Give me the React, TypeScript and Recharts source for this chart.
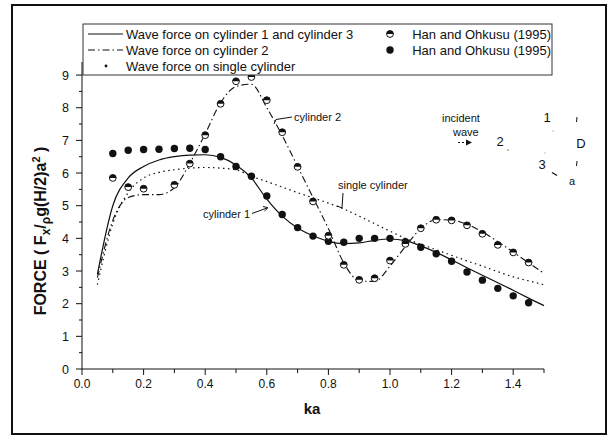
import React from "react";
import { ComposedChart, Line, XAxis, YAxis } from "recharts";

// ka grid shared by all series (step 0.05)
const kaValues = [
  0.05, 0.1, 0.15, 0.2, 0.25, 0.3, 0.35, 0.4, 0.45, 0.5, 0.55, 0.6, 0.65, 0.7, 0.75,
  0.8, 0.85, 0.9, 0.95, 1.0, 1.05, 1.1, 1.15, 1.2, 1.25, 1.3, 1.35, 1.4, 1.45, 1.5,
];

// computed wave force on cylinder 1 and cylinder 3
const forceCyl13 = [
  2.9, 5.0, 5.85, 6.2, 6.4, 6.5, 6.55, 6.56, 6.48, 6.25, 5.85, 5.2, 4.68, 4.32, 4.08,
  3.91, 3.84, 3.86, 3.94, 3.98, 3.93, 3.77, 3.57, 3.34, 3.1, 2.87, 2.64, 2.41, 2.17, 1.94,
];
// computed wave force on cylinder 2
const forceCyl2 = [
  2.8, 4.55, 5.25, 5.34, 5.34, 5.55, 6.3, 7.2, 8.15, 8.65, 8.72, 8.0, 7.15, 6.2, 5.25,
  4.3, 3.25, 2.7, 2.68, 3.15, 3.75, 4.3, 4.57, 4.56, 4.43, 4.2, 3.9, 3.58, 3.25, 2.93,
];
// computed wave force on a single cylinder
const forceSingle = [
  2.58, 4.45, 5.4, 5.85, 6.02, 6.1, 6.15, 6.17, 6.15, 6.1, 5.9, 5.74, 5.57, 5.4, 5.24,
  5.08, 4.9, 4.68, 4.45, 4.22, 4.0, 3.82, 3.65, 3.48, 3.31, 3.15, 2.98, 2.82, 2.7, 2.58,
];
// Han and Ohkusu (1995), cylinder 1 (filled circles)
const hanCyl1 = [
  null, 6.6, 6.7, 6.72, 6.73, 6.75, 6.76, 6.72, 6.5, 6.2, 5.9, 5.3, 4.73, 4.33, 4.07,
  3.91, 3.88, 4.0, 4.0, 4.0, 3.9, 3.73, 3.53, 3.3, 2.97, 2.72, 2.47, 2.24, 2.03, null,
];
// Han and Ohkusu (1995), cylinder 2 (half-filled circles)
const hanCyl2 = [
  null, 5.85, 5.57, 5.52, null, 5.64, 6.29, 7.16, 8.12, 8.81, 8.94, 8.23, 7.25, 6.19, 5.13,
  4.08, 3.19, 2.73, 2.78, 3.32, 3.83, 4.31, 4.57, 4.55, 4.4, 4.14, 3.8, 3.57, 3.26, null,
];

const xTicks = [0, 0.1, 0.2, 0.3, 0.4, 0.5, 0.6, 0.7, 0.8, 0.9, 1.0, 1.1, 1.2, 1.3, 1.4, 1.5];
const xTickLabels = ["0.0", "", "0.2", "", "0.4", "", "0.6", "", "0.8", "", "1.0", "", "1.2", "", "1.4", ""];
const yTicks = [0, 0.5, 1, 1.5, 2, 2.5, 3, 3.5, 4, 4.5, 5, 5.5, 6, 6.5, 7, 7.5, 8, 8.5, 9];

const tableData = kaValues.map((ka, i) => ({
  ka,
  cyl13: forceCyl13[i],
  cyl2: forceCyl2[i],
  single: forceSingle[i],
  exp1: hanCyl1[i],
  exp2: hanCyl2[i],
}));

const FONT = "'Liberation Sans', Arial, Helvetica, sans-serif";
const INK = "#111";

const XTick = (props: any) => {
  const { x, y, index } = props;
  const label = xTickLabels[index] ?? "";
  const major = label !== "";
  return (
    <g>
      <line x1={x} x2={x} y1={y} y2={y + (major ? 6 : 4)} stroke={INK} strokeWidth={1} />
      {major && (
        <text x={x} y={y + 19} textAnchor="middle" fontSize={12} fontFamily={FONT} fill={INK}>
          {label}
        </text>
      )}
    </g>
  );
};

const YTick = (props: any) => {
  const { x, y, payload } = props;
  const v = payload.value as number;
  const major = Number.isInteger(v);
  return (
    <g>
      <line x1={x} x2={x - (major ? 6 : 3)} y1={y} y2={y} stroke={INK} strokeWidth={1} />
      {major && (
        <text x={x - 13} y={y + 4.5} textAnchor="end" fontSize={12.5} fontFamily={FONT} fill={INK}>
          {v}
        </text>
      )}
    </g>
  );
};

const FilledDot = (props: any) => {
  const { cx, cy, index, value } = props;
  if (value == null || cy == null || Number.isNaN(cy)) return <g key={`f-${index}`} />;
  return <circle key={`f-${index}`} cx={cx} cy={cy} r={3.7} fill={INK} />;
};

const halfMarker = (cx: number, cy: number, r: number) => (
  <g>
    <circle cx={cx} cy={cy} r={r} fill="#fff" stroke={INK} strokeWidth={1} />
    <path d={`M ${cx - r} ${cy} A ${r} ${r} 0 0 1 ${cx + r} ${cy} Z`} fill={INK} />
  </g>
);

const HalfDot = (props: any) => {
  const { cx, cy, index, value } = props;
  if (value == null || cy == null || Number.isNaN(cy)) return <g key={`h-${index}`} />;
  return <g key={`h-${index}`}>{halfMarker(cx, cy, 3.4)}</g>;
};

const legendRows = [
  "Wave force on cylinder 1 and cylinder 3",
  "Wave force on cylinder 2",
  "Wave force on single cylinder",
];
const legendExp = ["Han and Ohkusu (1995)", "Han and Ohkusu (1995)"];

const Overlay = () => (
  <svg
    width={610}
    height={439}
    style={{ position: "absolute", left: 0, top: 0, pointerEvents: "none" }}
    fontFamily={FONT}
  >
    {/* outer frame */}
    <rect x={12} y={5} width={594} height={429} fill="none" stroke={INK} strokeWidth={2} />

    {/* legend */}
    <rect x={83} y={24} width={469} height={51} fill="#fff" stroke="#333" strokeWidth={1} />
    <line x1={88} x2={123} y1={34} y2={34} stroke={INK} strokeWidth={1.2} />
    <line x1={88} x2={123} y1={50} y2={50} stroke={INK} strokeWidth={1.1} strokeDasharray="7 3 1.5 3" />
    <circle cx={106} cy={66} r={1.4} fill={INK} />
    {legendRows.map((t, i) => (
      <text key={t} x={126} y={38.5 + i * 16} fontSize={13} fill={INK}>
        {t}
      </text>
    ))}
    {halfMarker(390, 34, 3.4)}
    <circle cx={390} cy={50} r={3.7} fill={INK} />
    {legendExp.map((t, i) => (
      <text key={i} x={551} y={38.5 + i * 16} fontSize={13} fill={INK} textAnchor="end">
        {t}
      </text>
    ))}

    {/* curve labels */}
    <text x={294} y={120.5} fontSize={11} fill={INK}>cylinder 2</text>
    <polyline points="274,124 276,119.5 292,117" fill="none" stroke={INK} strokeWidth={1} />
    <text x={203} y={218} fontSize={11} fill={INK}>cylinder 1</text>
    <polyline points="252,213.5 267,208" fill="none" stroke={INK} strokeWidth={1} />
    <path d="M 263 206.5 L 268 207.7 L 264.5 211" fill="none" stroke={INK} strokeWidth={1} />
    <text x={338} y={189} fontSize={11} fill={INK}>single cylinder</text>
    <polyline points="343,193 342,208 337,206" fill="none" stroke={INK} strokeWidth={1} />

    {/* layout sketch */}
    <text x={442} y={122} fontSize={11} fill={INK}>incident</text>
    <text x={453} y={136} fontSize={11} fill={INK}>wave</text>
    <line x1={458} x2={466} y1={142.5} y2={142.5} stroke={INK} strokeWidth={1} strokeDasharray="2 2" />
    <path d="M 466 139.5 L 472 142.5 L 466 145.5 Z" fill={INK} />
    <text x={500} y={146} fontSize={13} fill={INK} textAnchor="middle">2</text>
    <text x={547} y={122} fontSize={13} fill={INK} textAnchor="middle">1</text>
    <text x={542} y={169} fontSize={13} fill={INK} textAnchor="middle">3</text>
    <text x={581} y={148} fontSize={13} fill={INK} textAnchor="middle">D</text>
    <text x={572} y={185} fontSize={11} fill={INK} textAnchor="middle">a</text>
    <line x1={577} x2={576.5} y1={117} y2={122} stroke={INK} strokeWidth={1} />
    <line x1={577} x2={576.5} y1={161} y2={166} stroke={INK} strokeWidth={1} />
    <path d="M 552 172.5 L 557 175.5" stroke={INK} strokeWidth={1.2} />
    <circle cx={508} cy={150} r={0.7} fill="#555" />
    <circle cx={545} cy={153} r={0.6} fill="#777" />
    <circle cx={553} cy={131} r={0.6} fill="#777" />

    {/* axis titles */}
    <text x={312} y={414} fontSize={15} fontWeight="bold" fill={INK} textAnchor="middle">ka</text>
    <text
      transform="translate(46,231) rotate(-90)"
      fontSize={16}
      fontWeight="bold"
      fill={INK}
      textAnchor="middle"
    >
      FORCE ( F
      <tspan fontSize={12} dy={4}>x</tspan>
      <tspan dy={-4}>/</tspan>
      <tspan fontSize={12} dy={4}>ρ</tspan>
      <tspan dy={-4}>g(H/2)a</tspan>
      <tspan fontSize={11} dy={-6}>2</tspan>
      <tspan dy={6}> )</tspan>
    </text>
  </svg>
);

export default function App() {
  return (
    <div style={{ position: "absolute", left: 0, top: 0, width: 610, height: 439, background: "#fff" }}>
      <ComposedChart
        width={610}
        height={439}
        data={tableData}
        margin={{ top: 62, right: 66, bottom: 40, left: 42 }}
      >
        <XAxis
          dataKey="ka"
          type="number"
          domain={[0, 1.5]}
          ticks={xTicks}
          interval={0}
          height={30}
          tickSize={0}
          tickMargin={0}
          tickLine={false}
          tick={<XTick />}
          axisLine={{ stroke: INK, strokeWidth: 1 }}
        />
        <YAxis
          type="number"
          domain={[0, 9.4]}
          ticks={yTicks}
          interval={0}
          width={40}
          tickSize={0}
          tickMargin={0}
          tickLine={false}
          tick={<YTick />}
          axisLine={{ stroke: INK, strokeWidth: 1 }}
        />
        <Line
          dataKey="single"
          type="monotone"
          stroke={INK}
          strokeWidth={1.2}
          strokeDasharray="1.5 3.5"
          dot={false}
          activeDot={false}
          isAnimationActive={false}
        />
        <Line
          dataKey="cyl2"
          type="monotone"
          stroke={INK}
          strokeWidth={1.1}
          strokeDasharray="7 3 1.5 3"
          dot={false}
          activeDot={false}
          isAnimationActive={false}
        />
        <Line
          dataKey="cyl13"
          type="monotone"
          stroke={INK}
          strokeWidth={1.2}
          dot={false}
          activeDot={false}
          isAnimationActive={false}
        />
        <Line
          dataKey="exp1"
          stroke="none"
          dot={FilledDot}
          activeDot={false}
          isAnimationActive={false}
        />
        <Line
          dataKey="exp2"
          stroke="none"
          dot={HalfDot}
          activeDot={false}
          isAnimationActive={false}
        />
      </ComposedChart>
      <Overlay />
    </div>
  );
}
